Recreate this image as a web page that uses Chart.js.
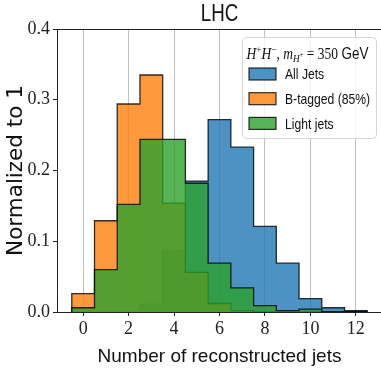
<!DOCTYPE html>
<html lang="en">
<head>
<meta charset="UTF-8">
<title>LHC</title>
<style>
    html, body {
        margin: 0;
        padding: 0;
        background: #fff;
        overflow: hidden;
    }
    .chart-container {
        width: 390px;
        height: 379px;
    }
</style>
</head>
<body>
<div class="chart-container">
    <canvas id="jetChart"></canvas>
</div>

<script src="https://cdn.jsdelivr.net/npm/chart.js"></script>
<script>
    // histogram bins (number of reconstructed jets) and normalized heights
    const jetBins   = [0, 1, 2, 3, 4, 5, 6, 7, 8, 9, 10, 11, 12];
    const allJets   = [0, 0, 0, 0.011, 0.086, 0.185, 0.272, 0.233, 0.121, 0.069, 0.019, 0.006, 0.002];
    const bTagged   = [0.026, 0.129, 0.294, 0.335, 0.154, 0.056, 0.012, 0.002, 0, 0, 0, 0, 0];
    const lightJets = [0.006, 0.060, 0.152, 0.244, 0.244, 0.182, 0.069, 0.034, 0.009, 0.002, 0.004, 0, 0];
    const seriesNames = ['All Jets', 'B-tagged (85%)', 'Light jets'];
    const xTicks = [0, 2, 4, 6, 8, 10, 12];
    const yTicks = [0, 0.1, 0.2, 0.3, 0.4];

    const serif = "'Liberation Serif', 'DejaVu Serif', serif";
    const sans = "'Liberation Sans', Arial, sans-serif";
    const edge = 'rgba(0, 0, 0, 0.8)';
    const fills = ['rgba(31, 119, 180, 0.8)', 'rgba(255, 127, 14, 0.8)', 'rgba(44, 160, 44, 0.8)'];

    // turn bin heights into a stepfilled outline (left edge of every bin)
    function steps(values) {
        const pts = [{ x: jetBins[0] - 0.5, y: 0 }];
        values.forEach((v, i) => pts.push({ x: jetBins[i] - 0.5, y: v }));
        pts.push({ x: jetBins[jetBins.length - 1] + 0.5, y: 0 });
        return pts;
    }

    function histSet(i, values) {
        return {
            label: seriesNames[i],
            data: steps(values),
            stepped: 'before',
            fill: 'origin',
            backgroundColor: fills[i],
            borderColor: edge,
            borderWidth: 1.3,
            pointRadius: 0,
            order: 3 - i
        };
    }

    // condensed text: no narrow face installed, so squeeze horizontally
    function narrowText(ctx, text, x, y, font, sx, align) {
        ctx.save();
        ctx.font = font;
        const w = ctx.measureText(text).width * sx;
        const left = align === 'center' ? x - w / 2 : x;
        ctx.translate(left, y);
        ctx.scale(sx, 1);
        ctx.fillText(text, 0, 0);
        ctx.restore();
    }

    // top spine (the right one falls just outside the window) and the title
    const frame = {
        id: 'frame',
        afterDatasetsDraw(chart) {
            const { ctx, chartArea: ca } = chart;
            ctx.save();
            ctx.strokeStyle = '#222';
            ctx.lineWidth = 1;
            ctx.beginPath();
            ctx.moveTo(ca.left, ca.top + 0.5);
            ctx.lineTo(ca.right, ca.top + 0.5);
            ctx.lineTo(ca.right, ca.bottom);
            ctx.stroke();

            ctx.fillStyle = '#111';
            ctx.textBaseline = 'alphabetic';
            narrowText(ctx, 'LHC', (ca.left + ca.right) / 2, ca.top - 8, '24px ' + sans, 0.78, 'center');
            ctx.restore();
        }
    };

    // matplotlib-like legend box with a math title
    const legendBox = {
        id: 'legendBox',
        afterDraw(chart) {
            const { ctx, chartArea: ca } = chart;
            const x0 = ca.right - 140, y0 = ca.top + 8, w = 134, h = 101;
            ctx.save();
            ctx.beginPath();
            ctx.roundRect(x0 + 0.5, y0 + 0.5, w, h, 4);
            ctx.fillStyle = 'rgba(255, 255, 255, 0.8)';
            ctx.fill();
            ctx.strokeStyle = 'rgba(204, 204, 204, 0.8)';
            ctx.lineWidth = 1;
            ctx.stroke();

            // title: H+H-, m_{H+} = 350 GeV
            const it = s => 'italic ' + s + 'px ' + serif;
            const runs = [
                ['H', it(16), 0], ['+', '11px ' + serif, -6], ['H', it(16), 0], ['\u2212', '11px ' + serif, -6],
                [', ', '16px ' + serif, 0], ['m', it(16), 0], ['H', it(11), 3], ['+', '8px ' + serif, -2],
                [' = 350 ', '16px ' + serif, 0], ['GeV', '16px ' + sans, 0]
            ];
            let total = 0;
            runs.forEach(([t, f]) => { ctx.font = f; total += ctx.measureText(t).width; });
            const sx = Math.min(1, 122 / total);
            ctx.fillStyle = '#111';
            ctx.textBaseline = 'alphabetic';
            ctx.save();
            ctx.translate(x0 + 4.5, y0 + 21.5);
            ctx.scale(sx, 1);
            let tx = 0;
            runs.forEach(([t, f, dy]) => {
                ctx.font = f;
                ctx.fillText(t, tx, dy);
                tx += ctx.measureText(t).width;
            });
            ctx.restore();

            chart.data.datasets.forEach((ds, i) => {
                const cy = y0 + 37 + i * 24.7;
                ctx.fillStyle = ds.backgroundColor;
                ctx.fillRect(x0 + 7, cy - 6, 27, 12);
                ctx.strokeStyle = edge;
                ctx.lineWidth = 1.2;
                ctx.strokeRect(x0 + 7, cy - 6, 27, 12);
                ctx.fillStyle = '#111';
                ctx.textBaseline = 'middle';
                narrowText(ctx, ds.label, x0 + 43, cy + 1, '15px ' + sans, 0.81, 'left');
            });
            ctx.restore();
        }
    };

    const ctx = document.getElementById('jetChart').getContext('2d');

    const jetChart = new Chart(ctx, {
        type: 'line',
        data: {
            datasets: [histSet(0, allJets), histSet(1, bTagged), histSet(2, lightJets)]
        },
        options: {
            responsive: true,
            maintainAspectRatio: false,
            animation: false,
            layout: { padding: { left: 0, right: 8, top: 29, bottom: 0 } },
            plugins: {
                legend: { display: false },
                tooltip: { enabled: false }
            },
            scales: {
                x: {
                    type: 'linear',
                    min: -1.15,
                    max: 13.15,
                    z: 1,
                    afterBuildTicks: scale => { scale.ticks = xTicks.map(v => ({ value: v })); },
                    afterFit: scale => { scale.height = 67; },
                    ticks: {
                        color: '#222',
                        font: { family: serif, size: 18 },
                        padding: 2,
                        maxRotation: 0,
                        autoSkip: false
                    },
                    grid: {
                        color: 'rgba(176, 176, 176, 0.8)',
                        lineWidth: 1,
                        tickColor: '#222',
                        tickLength: 4
                    },
                    border: { color: '#222' },
                    title: {
                        display: true,
                        text: 'Number of reconstructed jets',
                        color: '#111',
                        font: { family: sans, size: 19 },
                        padding: { top: 0, bottom: 11 }
                    }
                },
                y: {
                    min: 0,
                    max: 0.4,
                    afterBuildTicks: scale => { scale.ticks = yTicks.map(v => ({ value: v })); },
                    afterFit: scale => { scale.width = 57; },
                    ticks: {
                        color: '#222',
                        font: { family: serif, size: 18 },
                        padding: 3,
                        callback: v => v.toFixed(1)
                    },
                    grid: {
                        drawOnChartArea: false,
                        tickColor: '#222',
                        tickLength: 4
                    },
                    border: { color: '#222' },
                    title: {
                        display: true,
                        text: 'Normalized to 1',
                        color: '#111',
                        font: { family: "'DejaVu Sans', sans-serif", size: 21.5 },
                        padding: { top: 4, bottom: 0 }
                    }
                }
            }
        },
        plugins: [frame, legendBox]
    });
</script>
</body>
</html>
